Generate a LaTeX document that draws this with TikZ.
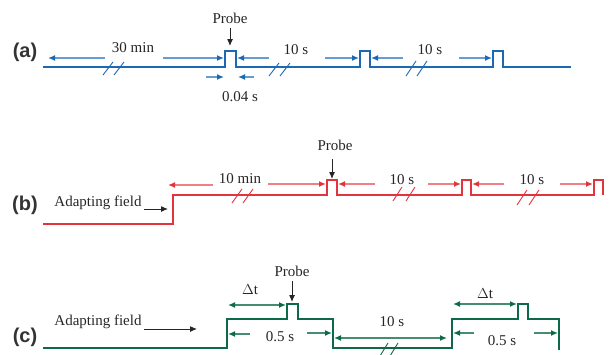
\documentclass[tikz,border=0pt]{standalone}
\usepackage{fontspec}
\setmainfont{Liberation Serif}
\newfontfamily\labfont{Liberation Sans}
\usetikzlibrary{arrows.meta}
\definecolor{bdark}{RGB}{28,104,178}
\definecolor{blight}{RGB}{100,156,212}
\definecolor{rdark}{RGB}{226,52,62}
\definecolor{rlight}{RGB}{238,128,134}
\definecolor{gdark}{RGB}{12,106,72}
\definecolor{glight}{RGB}{70,140,110}
\tikzset{
  txt/.style={inner sep=0pt,font=\fontsize{15}{18}\selectfont,text=black!85},
  plab/.style={inner sep=0pt,font=\labfont\bfseries\fontsize{20}{24}\selectfont,text=black!80},
  wave/.style={line width=2pt,line join=miter},
  brk/.style={line width=0.9pt},
  dimA/.style={blight,line width=1.4pt,-{Latex[color=bdark,length=7pt,width=6pt]}},
  dimB/.style={rlight,line width=1.4pt,-{Latex[color=rdark,length=7pt,width=6pt]}},
  dimC/.style={glight,line width=1.4pt,-{Latex[color=gdark,length=7pt,width=6pt]}},
  dimCC/.style={glight,line width=1.4pt,{Latex[color=gdark,length=7pt,width=6pt]}-{Latex[color=gdark,length=7pt,width=6pt]}},
  blk/.style={black!85,line width=1pt,-{Latex[length=7pt,width=6pt]}},
}
\begin{document}
\begin{tikzpicture}[x=1pt,y=-1pt]
\useasboundingbox (0,0) rectangle (610,354);
% ---------------- panel (a)
\node[plab] (la) at (25,52) {(a)};
\draw[wave,bdark] (43,67) -- (225,67) -- (225,51) -- (236,51) -- (236,67) -- (360,67) -- (360,51) -- (370,51) -- (370,67) -- (493,67) -- (493,51) -- (503,51) -- (503,67) -- (571,67);
\draw[brk,bdark] (103,75) -- (113,62) (114,75) -- (124,62);
\draw[brk,bdark] (269,76) -- (279,63) (280,76) -- (290,63);
\draw[brk,bdark] (406,76) -- (416,61) (417,76) -- (427,61);
\node[txt] (a30) at (133,48) {30 min};
\node[txt] (a10a) at (296,50) {10 s};
\node[txt] (a10b) at (430,50) {10 s};
\node[txt] (apr) at (230,18) {Probe};
\coordinate (ap) at (230,46);
\draw[blk] (230,28) -- (ap);
\node[txt] (a004) at (240,97) {0.04 s};
\draw[dimA] (105,58) -- (48,58);
\draw[dimA] (163,58) -- (224,58);
\draw[dimA] (269,58) -- (237,58);
\draw[dimA] (325,58) -- (359,58);
\draw[dimA] (403,58) -- (371,58);
\draw[dimA] (459,58) -- (492,58);
\draw[dimA] (206,77) -- (224,77);
\draw[dimA] (254,77) -- (238,77);
% ---------------- panel (b)
\node[plab] (lb) at (25,205) {(b)};
\node[txt] (bad) at (98,203) {Adapting field};
\coordinate (bst) at (168,209);
\draw[blk] (144,209) -- (bst);
\draw[wave,rdark] (43,224) -- (173,224) -- (173,195) -- (327,195) -- (327,180) -- (337,180) -- (337,195) -- (462,195) -- (462,180) -- (471,180) -- (471,195) -- (594,195) -- (594,180) -- (603,180) -- (603,195);
\draw[brk,rdark] (232,203) -- (242,189) (243,203) -- (253,189);
\draw[brk,rdark] (393,201) -- (402,187) (406,201) -- (415,187);
\draw[brk,rdark] (517,205) -- (527,190) (529,205) -- (539,190);
\node[txt] (b10m) at (240,179) {10 min};
\node[txt] (b10a) at (402,180) {10 s};
\node[txt] (b10b) at (532,180) {10 s};
\node[txt] (bpr) at (335,145) {Probe};
\coordinate (bp) at (332,179);
\draw[blk] (332,159) -- (bp);
\draw[dimB] (213,185) -- (168,185);
\draw[dimB] (268,184) -- (326,184);
\draw[dimB] (375,184) -- (338,184);
\draw[dimB] (428,184) -- (461,184);
\draw[dimB] (504,184) -- (472,184);
\draw[dimB] (560,184) -- (593,184);
% ---------------- panel (c)
\node[plab] (lc) at (25,337) {(c)};
\node[txt] (cad) at (98,322) {Adapting field};
\coordinate (cst) at (197,329);
\draw[blk] (144,329) -- (cst);
\draw[wave,gdark] (43,348) -- (227,348) -- (227,319) -- (287,319) -- (287,304) -- (298,304) -- (298,319) -- (333,319) -- (333,348) -- (452,348) -- (452,319) -- (518,319) -- (518,304) -- (528,304) -- (528,319) -- (559,319) -- (559,350);
\draw[brk,gdark] (380,356) -- (388,343) (390,356) -- (398,343);
\node[txt] (cdt1) at (250,290) {$\Delta$t};
\node[txt] (cdt2) at (485,294) {$\Delta$t};
\node[txt] (cpr) at (292,271) {Probe};
\coordinate (cp) at (292,302);
\draw[blk] (292,281) -- (cp);
\node[txt] (c05a) at (280,337) {0.5 s};
\node[txt] (c05b) at (502,341) {0.5 s};
\node[txt] (c10) at (392,322) {10 s};
\draw[dimCC] (228,305) -- (286,305);
\draw[dimCC] (453,304) -- (517,304);
\draw[dimC] (250,334) -- (228,334);
\draw[dimC] (307,333) -- (332,333);
\draw[dimCC] (334,338) -- (447,338);
\draw[dimC] (474,333) -- (453,333);
\draw[dimC] (534,333) -- (558,333);
\end{tikzpicture}
\end{document}
